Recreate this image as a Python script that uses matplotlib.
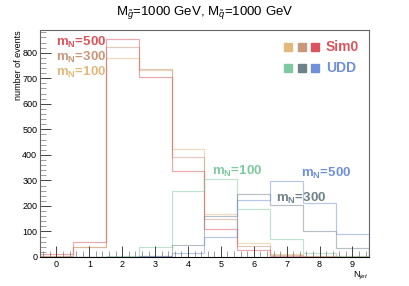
import numpy as np
import matplotlib
matplotlib.use("Agg")
import matplotlib.pyplot as plt
from matplotlib.ticker import MultipleLocator

plt.rcParams['font.family'] = ['Liberation Sans', 'DejaVu Sans']
plt.rcParams['mathtext.fontset'] = 'custom'
plt.rcParams['mathtext.rm'] = 'Liberation Sans'
plt.rcParams['mathtext.it'] = 'Liberation Sans:italic'
plt.rcParams['mathtext.bf'] = 'Liberation Sans:bold'

# ============================= Data ============================= #
edges = np.arange(-0.5, 10.0, 1.0)          # N_jet bins 0..9

# Sim0 samples
sim0_m100 = [4, 38, 778, 733, 422, 167, 54, 10, 3, 2]
sim0_m300 = [4, 38, 823, 737, 390, 150, 43, 7, 2, 1]
sim0_m500 = [10, 57, 852, 706, 337, 110, 27, 5, 1, 0]

# UDD samples
udd_m100 = [0, 1, 2, 40, 258, 305, 188, 72, 15, 5]
udd_m300 = [0, 0, 1, 5, 47, 160, 247, 204, 103, 36]
udd_m500 = [0, 0, 0, 2, 14, 77, 223, 297, 210, 90]

series = [
    (sim0_m100, '#e2b87c'),
    (sim0_m300, '#c9977a'),
    (sim0_m500, '#d9545c'),
    (udd_m100, '#7ec9a0'),
    (udd_m300, '#6e8088'),
    (udd_m500, '#7090d8'),
]
sim0_colors = [c for _, c in series[:3]]
udd_colors = [c for _, c in series[3:]]

# ============================= Plot ============================= #
fig = plt.figure(figsize=(4.09, 2.86), dpi=100)
ax = fig.add_axes([0.0978, 0.1014, 0.8042, 0.7937])

for vals, col in series:
    ax.stairs(vals, edges, color=col, alpha=0.5, lw=0.85, baseline=0)

ax.set_xlim(-0.5, 9.5)
ax.set_ylim(0, 889)

ax.xaxis.set_major_locator(MultipleLocator(1))
ax.xaxis.set_minor_locator(MultipleLocator(0.2))
ax.yaxis.set_major_locator(MultipleLocator(100))
ax.yaxis.set_minor_locator(MultipleLocator(20))
ax.tick_params(which='both', direction='in', top=False, right=False,
               labelsize=6.5, color='#444444', pad=2)
ax.tick_params(which='major', length=8, width=0.7)
ax.tick_params(which='minor', length=4, width=0.5, color='#777777')
for s in ax.spines.values():
    s.set_color('#666666')
    s.set_linewidth(0.8)
ax.spines['bottom'].set_color('black')

# title and axis labels
fig.text(0.5, 0.955, r'M$_{\tilde{g}}$=1000 GeV, M$_{\tilde{q}}$=1000 GeV',
         ha='center', va='center', fontsize=9.5)
ax.text(-0.064, 1.0, 'number of events', rotation=90, ha='center', va='top',
        fontsize=6.5, transform=ax.transAxes)
ax.text(1.0, -0.055, r'N$_{jet}$', ha='right', va='top', fontsize=6.5,
        transform=ax.transAxes)

# legend squares
xs = [0.753, 0.796, 0.837]
for x, c in zip(xs, sim0_colors):
    ax.plot(x, 0.925, 's', color=c, ms=6, transform=ax.transAxes, clip_on=False)
for x, c in zip(xs, udd_colors):
    ax.plot(x, 0.833, 's', color=c, ms=6, transform=ax.transAxes, clip_on=False)
ax.text(0.869, 0.925, 'Sim0', color=sim0_colors[2], fontsize=10,
        fontweight='bold', va='center', transform=ax.transAxes)
ax.text(0.869, 0.833, 'UDD', color=udd_colors[2], fontsize=10,
        fontweight='bold', va='center', transform=ax.transAxes)

# mass labels
labels = [
    (0.05, 0.947, '500', sim0_colors[2]),
    (0.05, 0.880, '300', sim0_colors[1]),
    (0.05, 0.812, '100', sim0_colors[0]),
    (0.524, 0.376, '100', udd_colors[0]),
    (0.793, 0.366, '500', udd_colors[2]),
    (0.718, 0.256, '300', udd_colors[1]),
]
for x, y, m, c in labels:
    ax.text(x, y, r'm$_{\mathbf{N}}$=' + m, color=c, fontsize=9.5,
            fontweight='bold', va='center', ha='left', transform=ax.transAxes)

fig.savefig('out.png', dpi=100)
